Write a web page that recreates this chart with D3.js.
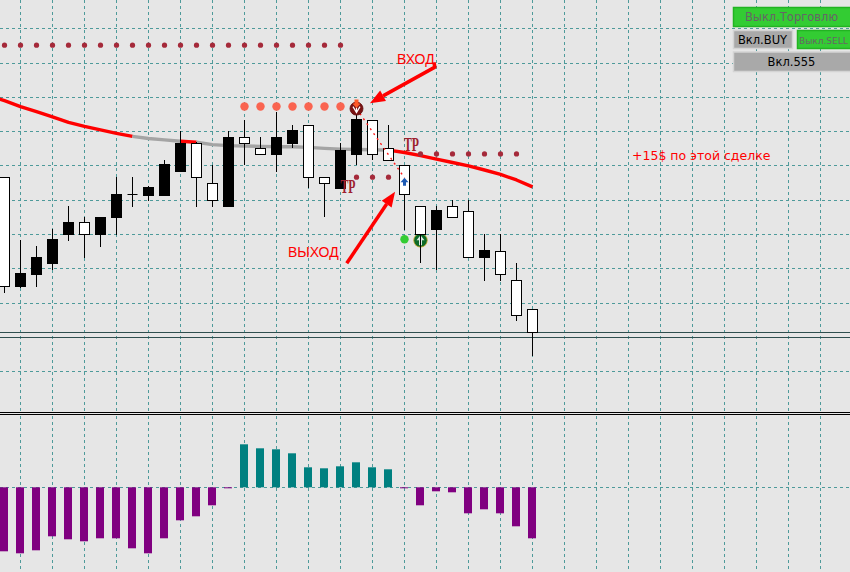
<!DOCTYPE html>
<html><head><meta charset="utf-8">
<script src="https://cdn.jsdelivr.net/npm/d3@7/dist/d3.min.js"></script>
<style>html,body{margin:0;padding:0;background:#e6e6e6;overflow:hidden}svg{display:block}</style>
</head><body><svg id="c" width="850" height="572"></svg>
<script>
// ---- DATA ----
const opens  = [1.31567,1.31248,1.31283,1.31315,1.31399,1.31434,1.31399,1.31449,1.31517,1.31515,1.31515,1.31583,1.31666,1.31549,1.31481,1.31684,1.31651,1.31633,1.31666,1.31719,1.31567,1.31534,1.31633,1.31733,1.31651,1.31602,1.31482,1.31414,1.31482,1.31468,1.31334,1.31351,1.31267,1.31182];
const highs  = [1.31567,1.31384,1.31367,1.31417,1.31483,1.31452,1.31451,1.31569,1.31569,1.31541,1.31617,1.31703,1.31670,1.31602,1.31703,1.31734,1.31684,1.31757,1.31719,1.31719,1.31567,1.31666,1.31769,1.31733,1.31718,1.31602,1.31482,1.31484,1.31501,1.31501,1.31402,1.31402,1.31317,1.31182];
const lows   = [1.31230,1.31244,1.31248,1.31297,1.31382,1.31332,1.31364,1.31398,1.31481,1.31499,1.31515,1.31583,1.31481,1.31481,1.31481,1.31602,1.31634,1.31583,1.31651,1.31535,1.31450,1.31534,1.31602,1.31617,1.31616,1.31413,1.31316,1.31297,1.31450,1.31334,1.31265,1.31265,1.31149,1.31046];
const closes = [1.31248,1.31285,1.31334,1.31384,1.31434,1.31399,1.31451,1.31518,1.31517,1.31536,1.31603,1.31666,1.31566,1.31500,1.31684,1.31666,1.31634,1.31684,1.31702,1.31566,1.31549,1.31644,1.31734,1.31633,1.31616,1.31517,1.31401,1.31469,1.31450,1.31334,1.31352,1.31284,1.31164,1.31115];

// moving average, starting one bar before the first visible candle
const maStartBar = -1;
const maValues = [1.31806,1.31790,1.31773,1.31758,1.31743,1.31727,1.31715,1.31705,1.31695,1.31686,1.31680,1.31676,1.31672,1.31669,1.31662,1.31659,1.31658,1.31657,1.31656,1.31656,1.31654,1.31651,1.31649,1.31648,1.31647,1.31646,1.31639,1.31630,1.31620,1.31610,1.31600,1.31588,1.31575,1.31559,1.31539];
const maState  = ['r','r','r','r','r','r','r','r','r','r','g','g','g','r','g','g','g','g','g','g','g','g','g','g','g','g','r','r','r','r','r','r','r','r','r'];

const stopDotBars = [0,1,2,3,4,5,6,7,8,9,10,11,12,13,14,15,16,17,18,19,20,21];
const stopDotPrice = 1.31952;
const entryDotBars = [15,16,17,18,19,20,21];
const entryDotPrice = 1.31773;
const entryBar = 22, entryPrice = 1.31767;
const lowTpBars = [22,23,24];
const lowTpPrice = 1.31567;
const highTpBars = [26,27,28,29,30,31,32];
const highTpPrice = 1.31635;
const exitBar = 25, exitPrice = 1.31554, exitLinePrice = 1.31565;
const greenDot = {bar:25, price:1.31386};
const greenMark = {bar:26, price:1.31383};
const bidPrice = 1.31115;
const levelPrice = 1.31100;

const histValues = [-6.4,-6.6,-6.3,-4.9,-5.2,-5.4,-5.1,-5.1,-6.1,-6.6,-5.1,-3.3,-2.9,-1.8,-0.1,4.3,3.9,3.8,3.4,2.0,1.9,2.1,2.5,2.0,1.8,-0.1,-1.8,-0.4,-0.5,-2.6,-2.2,-2.6,-3.9,-5.1];

const priceTicks = [1.310,1.311,1.312,1.313,1.314,1.315,1.316,1.317,1.318,1.319,1.320];

const labels = [
  {text:"ВХОД", bar:24.53, price:1.31897, color:"#ff0000", size:14, font:"Liberation Sans, Arial, sans-serif"},
  {text:"ВЫХОД", bar:17.72, price:1.31335, color:"#ff0000", size:14, font:"Liberation Sans, Arial, sans-serif"},
  {text:"+15$ по этой сделке", bar:39.22, price:1.31617, color:"#ff0000", size:12.5, font:"DejaVu Sans, sans-serif"}
];
const tpLabels = [{bar:24.97, price:1.31643},{bar:21.0, price:1.31520}];
const arrows = [
  {from:{bar:26.9, price:1.31888}, to:{bar:22.84, price:1.31783}, hook:{bar:26.84, price:1.31902}},
  {from:{bar:21.39, price:1.31316}, to:{bar:24.41, price:1.31525}}
];
const buttons = [
  {text:"Выкл.Торговлю", x:733, y:7, w:120, h:19, on:true, cx:791.5, size:11.5},
  {text:"Вкл.BUY", x:733, y:30, w:59, h:18, on:false, cx:762.5, size:11.5},
  {text:"Выкл.SELL", x:797, y:30, w:62, h:18, on:true, left:799, size:9},
  {text:"Вкл.555", x:733, y:51.5, w:120, h:19.5, on:false, cx:791.5, size:11.5}
];

// ---- SCALES ----
const W = 850, H = 572;
const svg = d3.select("#c");
const x = d3.scaleLinear().domain([0, 33]).range([4.5, 532.5]);
const y = d3.scaleLinear().domain([1.3100, 1.3200]).range([371.7, 28.7]);
const yh = d3.scaleLinear().domain([-5, 5]).range([537.3, 437.3]);
const crisp = v => Math.round(v - 0.5) + 0.5;
const gridColor = "#4e9a9a";

svg.append("rect").attr("width", W).attr("height", H).attr("fill", "#e6e6e6");

// ---- GRID ----
const main = svg.append("g");
const gridBars = d3.range(1, 53, 2);
main.selectAll("line.vg").data(gridBars).join("line")
  .attr("x1", d => x(d)).attr("x2", d => x(d)).attr("y1", 0).attr("y2", 411)
  .attr("stroke", gridColor).attr("stroke-dasharray", "3,3");
main.selectAll("line.hg").data(priceTicks).join("line")
  .attr("x1", 0).attr("x2", W).attr("y1", d => crisp(y(d))).attr("y2", d => crisp(y(d)))
  .attr("stroke", gridColor).attr("stroke-dasharray", "3,3");

// indicator grid
const ind = svg.append("g");
ind.selectAll("line").data(gridBars).join("line")
  .attr("x1", d => x(d)).attr("x2", d => x(d)).attr("y1", 416).attr("y2", H)
  .attr("stroke", gridColor).attr("stroke-dasharray", "3,3");

// ---- LEVEL LINES ----
[bidPrice, levelPrice].forEach(p => {
  main.append("line").attr("x1", 0).attr("x2", W).attr("y1", crisp(y(p))).attr("y2", crisp(y(p)))
    .attr("stroke", "#2f4f4f").attr("stroke-width", 1);
});

// ---- MOVING AVERAGE ----
const maPts = maValues.map((v, k) => [x(k + maStartBar), y(v)]);
let runs = [];
for (let k = 1; k < maPts.length; k++) {
  const s = maState[k];
  if (runs.length && runs[runs.length - 1].s === s) runs[runs.length - 1].pts.push(maPts[k]);
  else runs.push({s, pts: [maPts[k - 1], maPts[k]]});
}
const lineGen = d3.line();
main.selectAll("path.ma").data(runs).join("path")
  .attr("d", d => lineGen(d.pts)).attr("fill", "none")
  .attr("stroke", d => d.s === 'r' ? "#ff0000" : "#a4a4a4")
  .attr("stroke-width", 3.4).attr("stroke-linejoin", "round");

// ---- SIGNAL DOTS ----
main.selectAll("circle.sd").data(stopDotBars).join("circle")
  .attr("cx", d => x(d)).attr("cy", y(stopDotPrice)).attr("r", 2.6).attr("fill", "#a52a3a");
main.selectAll("circle.ed").data(entryDotBars).join("circle")
  .attr("cx", d => x(d)).attr("cy", y(entryDotPrice)).attr("r", 4.2).attr("fill", "#fa6450");
main.selectAll("circle.lt").data(lowTpBars).join("circle")
  .attr("cx", d => x(d)).attr("cy", y(lowTpPrice)).attr("r", 2.6).attr("fill", "#a52a3a");
main.selectAll("circle.ht").data(highTpBars).join("circle")
  .attr("cx", d => x(d)).attr("cy", y(highTpPrice)).attr("r", 2.6).attr("fill", "#a52a3a");

// green dot & green marker (under candles)
main.append("circle").attr("cx", x(greenDot.bar)).attr("cy", y(greenDot.price)).attr("r", 4.2).attr("fill", "#33cc33");
const gm = main.append("g").attr("transform", `translate(${x(greenMark.bar)},${y(greenMark.price)})`);
gm.append("circle").attr("r", 6.8).attr("fill", "#0b6a28").attr("stroke", "#d8b030").attr("stroke-width", 0.8);
gm.append("path").attr("d", "M0,-5 L4,0 L1.5,0 L1.5,5 L-1.5,5 L-1.5,0 L-4,0 Z").attr("fill", "#ffffff").attr("opacity", 0.85);

// ---- CANDLES ----
const idx = d3.range(opens.length);
const cg = main.append("g");
cg.selectAll("line.w").data(idx).join("line")
  .attr("x1", i => x(i)).attr("x2", i => x(i))
  .attr("y1", i => Math.round(y(highs[i]))).attr("y2", i => Math.round(y(lows[i])))
  .attr("stroke", "#000").attr("stroke-width", 1);
cg.selectAll("rect.b").data(idx.filter(i => Math.abs(opens[i] - closes[i]) > 0.000005)).join("rect")
  .attr("x", i => x(i) - 5)
  .attr("y", i => crisp(y(Math.max(opens[i], closes[i]))))
  .attr("width", 10)
  .attr("height", i => Math.max(1, crisp(y(Math.min(opens[i], closes[i]))) - crisp(y(Math.max(opens[i], closes[i])))))
  .attr("fill", i => closes[i] > opens[i] ? "#000" : "#fff")
  .attr("stroke", "#000").attr("stroke-width", 1);
cg.selectAll("line.d").data(idx.filter(i => Math.abs(opens[i] - closes[i]) <= 0.000005)).join("line")
  .attr("x1", i => x(i) - 5).attr("x2", i => x(i) + 5)
  .attr("y1", i => crisp(y(opens[i]))).attr("y2", i => crisp(y(opens[i])))
  .attr("stroke", "#000").attr("stroke-width", 1);

// ---- TRADE LINE ----
main.append("line")
  .attr("x1", x(entryBar)).attr("y1", y(entryPrice))
  .attr("x2", x(exitBar)).attr("y2", y(exitLinePrice))
  .attr("stroke", "#ff1a1a").attr("stroke-width", 1.4).attr("stroke-dasharray", "2,4");

// entry marker
const em = main.append("g").attr("transform", `translate(${x(entryBar)},${y(entryPrice)})`);
em.append("circle").attr("r", 6.5).attr("fill", "#7a1212").attr("stroke", "#5a0808").attr("stroke-width", 0.8);
em.append("path").attr("d", "M-3.5,-2 L0,4 L3.5,-2 M0,4 L0,-1").attr("stroke", "#ffffff").attr("stroke-width", 1.2).attr("fill", "none");
em.append("path").attr("d", "M-2,-9 L2,-9 L2,-5 L4,-5 L0,-0.5 L-4,-5 L-2,-5 Z").attr("fill", "#ff5a28");

// exit arrow (blue, inside candle)
const ex = main.append("g").attr("transform", `translate(${x(exitBar)},${y(exitPrice)})`);
ex.append("path").attr("d", "M0,-4 L4,0.5 L1.5,0.5 L1.5,4 L-1.5,4 L-1.5,0.5 L-4,0.5 Z").attr("fill", "#1e5ab4");

// TP labels
main.selectAll("text.tp").data(tpLabels).join("text")
  .attr("x", d => x(d.bar)).attr("y", d => y(d.price))
  .attr("font-family", "Liberation Serif, Times New Roman, serif").attr("font-weight", "bold")
  .attr("font-size", 18.5).attr("fill", "#9e1f2e")
  .attr("textLength", 15).attr("lengthAdjust", "spacingAndGlyphs")
  .text("TP");

// ---- ANNOTATION ARROWS ----
arrows.forEach(a => {
  const x1 = x(a.from.bar), y1 = y(a.from.price), x2 = x(a.to.bar), y2 = y(a.to.price);
  const ang = Math.atan2(y2 - y1, x2 - x1);
  const L = 15, hw = 6;
  const bx = x2 - L * Math.cos(ang), by = y2 - L * Math.sin(ang);
  const px = -Math.sin(ang), py = Math.cos(ang);
  let d = `M${x1},${y1} L${bx},${by}`;
  if (a.hook) d = `M${x(a.hook.bar)},${y(a.hook.price)} L${x1},${y1} L${bx},${by}`;
  main.append("path").attr("d", d).attr("stroke", "#ff0000").attr("stroke-width", 3.5).attr("fill", "none").attr("stroke-linejoin", "round");
  main.append("path").attr("d", `M${x2},${y2} L${bx + px * hw},${by + py * hw} L${bx - px * hw},${by - py * hw} Z`).attr("fill", "#ff0000");
});

main.selectAll("text.lab").data(labels).join("text")
  .attr("x", d => x(d.bar)).attr("y", d => y(d.price))
  .attr("font-family", d => d.font).attr("font-size", d => d.size).attr("fill", d => d.color)
  .text(d => d.text);

// ---- WINDOW SEPARATOR ----
svg.append("line").attr("x1", 0).attr("x2", W).attr("y1", 412.5).attr("y2", 412.5).attr("stroke", "#000");
svg.append("line").attr("x1", 0).attr("x2", W).attr("y1", 414.5).attr("y2", 414.5).attr("stroke", "#000");

// ---- HISTOGRAM ----
ind.append("line").attr("x1", 0).attr("x2", W).attr("y1", crisp(yh(0))).attr("y2", crisp(yh(0)))
  .attr("stroke", gridColor).attr("stroke-dasharray", "3,3");
ind.selectAll("rect").data(histValues).join("rect")
  .attr("x", (v, i) => x(i) - 4.5).attr("width", 8)
  .attr("y", v => v >= 0 ? yh(v) : yh(0))
  .attr("height", v => Math.max(1, Math.abs(yh(v) - yh(0))))
  .attr("fill", v => v >= 0 ? "#008080" : "#800080");

// ---- BUTTONS ----
const bg = svg.append("g");
buttons.forEach(b => {
  bg.append("rect").attr("x", b.x + 0.5).attr("y", b.y + 0.5).attr("width", b.w).attr("height", b.h)
    .attr("fill", b.on ? "#33cc33" : "#a9a9a9")
    .attr("stroke", b.on ? "#22b422" : "#d4d4d4").attr("stroke-width", 1.5);
  bg.append("text")
    .attr("x", b.left ? b.left : b.cx)
    .attr("y", b.y + b.h / 2 + 4.5)
    .attr("text-anchor", b.left ? "start" : "middle")
    .attr("font-family", "DejaVu Sans, sans-serif").attr("font-size", b.size)
    .attr("fill", b.on ? "#666666" : "#000000")
    .text(b.text);
});
</script></body></html>
